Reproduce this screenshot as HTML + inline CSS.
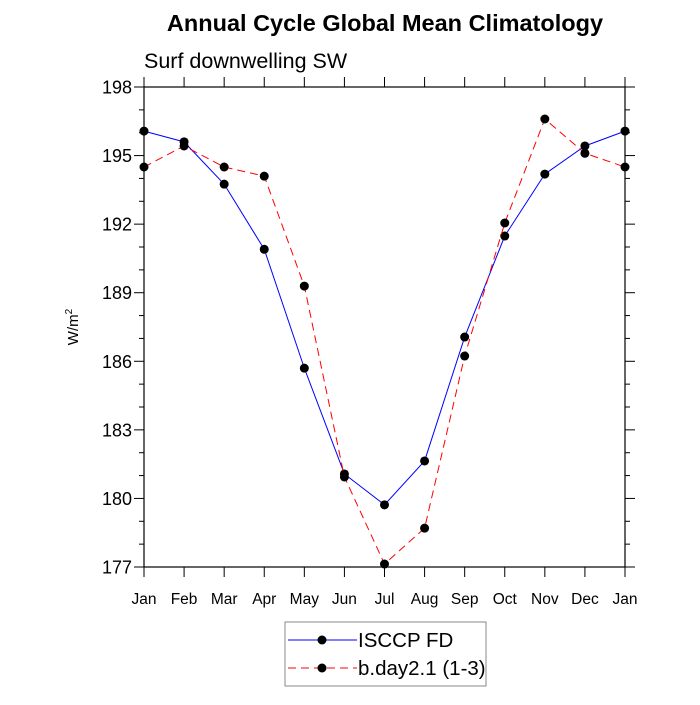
<!DOCTYPE html>
<html><head><meta charset="utf-8"><style>
body{margin:0;background:#fff;font-family:"Liberation Sans",sans-serif}
</style></head><body>
<svg width="700" height="700" font-family="Liberation Sans, sans-serif">
<text x="385" y="31" text-anchor="middle" font-size="23.5" font-weight="bold">Annual Cycle Global Mean Climatology</text>
<text x="144" y="68" font-size="21.5">Surf downwelling SW</text>
<text transform="translate(78,327) rotate(-90)" text-anchor="middle" font-size="15">W/m<tspan dy="-6" font-size="10">2</tspan></text>
<g id="axes"></g><g id="series"></g>
<g>
<rect x="285" y="622" width="201" height="64" fill="none" stroke="#888" stroke-width="1"/>
<line x1="288" y1="640" x2="357" y2="640" stroke="#00f" stroke-width="1"/>
<circle cx="322" cy="640" r="4.5" fill="#000"/>
<text x="358" y="647" font-size="20.5">ISCCP FD</text>
<line x1="288" y1="668" x2="357" y2="668" stroke="#f00" stroke-width="1" stroke-dasharray="8,5"/>
<circle cx="322" cy="668" r="4.5" fill="#000"/>
<text x="358" y="675" font-size="20.5">b.day2.1 (1-3)</text>
</g>
</svg>
<script>
const months=["Jan","Feb","Mar","Apr","May","Jun","Jul","Aug","Sep","Oct","Nov","Dec","Jan"];
const yTicks=[177,180,183,186,189,192,195,198];
const isccp=[196.07,195.6,193.75,190.9,185.7,181.07,179.72,181.64,187.06,191.48,194.19,195.42,196.07];
const model=[194.5,195.42,194.5,194.1,189.29,180.94,177.13,178.7,186.23,192.05,196.6,195.1,194.5];
const L=144,R=625,T=87,B=567,ymin=177,ymax=198;
const sx=i=>L+i*(R-L)/12, sy=v=>B-(v-ymin)*(B-T)/(ymax-ymin);
const NS="http://www.w3.org/2000/svg";
function mk(p,t,a){const e=document.createElementNS(NS,t);for(const k in a)e.setAttribute(k,a[k]);p.appendChild(e);return e;}
const ax=document.getElementById('axes');
const frame=mk(ax,'rect',{x:L,y:T,width:R-L,height:B-T,fill:'none',stroke:'#000','stroke-width':1.2});


months.forEach((m,i)=>{const x=sx(i);
mk(ax,'line',{x1:x,y1:B,x2:x,y2:B+10,stroke:'#000'});
mk(ax,'line',{x1:x,y1:T,x2:x,y2:T-10,stroke:'#000'});
const t=mk(ax,'text',{x:x,y:604,'text-anchor':'middle','font-size':15.5});t.textContent=m;

});
for(let v=ymin;v<=ymax;v++){const y=sy(v),maj=(v-ymin)%3==0,len=maj?10:5;
mk(ax,'line',{x1:L-len,y1:y,x2:L,y2:y,stroke:'#000'});
mk(ax,'line',{x1:R,y1:y,x2:R+len,y2:y,stroke:'#000'});}
yTicks.forEach(v=>{const t=mk(ax,'text',{x:L-12,y:sy(v)+6.5,'text-anchor':'end','font-size':18});t.textContent=v;

});
const sg=document.getElementById('series');
function draw(d,col,dash,name){
const pl=mk(sg,'polyline',{points:d.map((v,i)=>sx(i)+','+sy(v)).join(' '),fill:'none',stroke:col,'stroke-width':1,'stroke-dasharray':dash});


d.forEach((v,i)=>{const c=mk(sg,'circle',{cx:sx(i),cy:sy(v),r:4.5,fill:'#000'});

});}
draw(isccp,'#00f','none','isccp');
draw(model,'#f00','8,5','model');
</script>
</body></html>
